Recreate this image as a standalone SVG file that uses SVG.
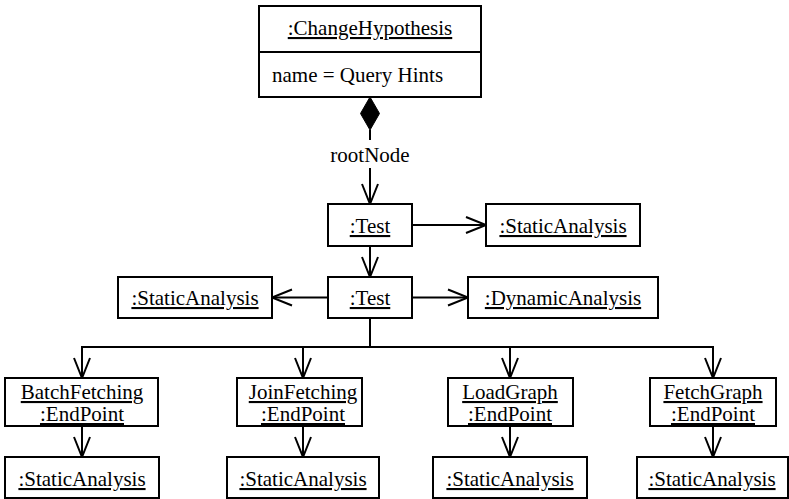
<svg xmlns="http://www.w3.org/2000/svg" width="789" height="499" viewBox="0 0 789 499">
  <style>
    .box { fill: #fff; stroke: #000; stroke-width: 2; }
    .lbl { font-family: "Liberation Serif", "Times New Roman", serif; font-size: 21px; fill: #000; text-anchor: middle; }
    .obj { text-decoration: underline; }
    .edge { fill: none; stroke: #000; stroke-width: 2; }
  </style>
  <defs>
    <marker id="open" markerUnits="userSpaceOnUse" viewBox="-22 -10 24 20" markerWidth="24" markerHeight="20" refX="0" refY="0" orient="auto" overflow="visible">
      <path d="M-20,-8 L0,0 L-20,8" fill="none" stroke="#000" stroke-width="2"/>
    </marker>
  </defs>

  <rect width="789" height="499" fill="#fff"/>

  <!-- connectors -->
  <g id="connectors" class="edge">
    <polygon points="370,97 379.5,113.5 370,130 360.5,113.5" fill="#000" stroke="#000" stroke-width="1"/>
    <line x1="370" y1="130" x2="370" y2="140"/>
    <line x1="370" y1="168" x2="370" y2="204" marker-end="url(#open)"/>
    <line x1="412" y1="225" x2="486" y2="225" marker-end="url(#open)"/>
    <line x1="370" y1="246" x2="370" y2="277" marker-end="url(#open)"/>
    <line x1="328" y1="297.5" x2="272" y2="297.5" marker-end="url(#open)"/>
    <line x1="412" y1="297.5" x2="468" y2="297.5" marker-end="url(#open)"/>
    <polyline points="370,318 370,347"/>
    <line x1="81" y1="347" x2="714" y2="347"/>
    <line x1="82" y1="347" x2="82" y2="378" marker-end="url(#open)"/>
    <line x1="303" y1="347" x2="303" y2="378" marker-end="url(#open)"/>
    <line x1="510" y1="347" x2="510" y2="378" marker-end="url(#open)"/>
    <line x1="713" y1="347" x2="713" y2="378" marker-end="url(#open)"/>
    <line x1="82" y1="426" x2="82" y2="457" marker-end="url(#open)"/>
    <line x1="303" y1="426" x2="303" y2="457" marker-end="url(#open)"/>
    <line x1="510" y1="426" x2="510" y2="457" marker-end="url(#open)"/>
    <line x1="713" y1="426" x2="713" y2="457" marker-end="url(#open)"/>
  </g>
  <text class="lbl" x="370" y="162">rootNode</text>

  <!-- nodes -->
  <g id="changeHypothesis">
    <rect class="box" x="259" y="6" width="222" height="91"/>
    <line x1="259" y1="52" x2="481" y2="52" stroke="#000" stroke-width="2"/>
    <text class="lbl obj" x="370" y="35">:ChangeHypothesis</text>
    <text class="lbl" x="272" y="82" style="text-anchor:start">name = Query Hints</text>
  </g>

  <g id="test1">
    <rect class="box" x="328" y="204" width="84" height="42"/>
    <text class="lbl obj" x="370" y="233">:Test</text>
  </g>
  <g id="staticAnalysis1">
    <rect class="box" x="486" y="204" width="154" height="42"/>
    <text class="lbl obj" x="563" y="233">:StaticAnalysis</text>
  </g>

  <g id="test2">
    <rect class="box" x="328" y="277" width="84" height="41"/>
    <text class="lbl obj" x="370" y="305">:Test</text>
  </g>
  <g id="staticAnalysis2">
    <rect class="box" x="118" y="277" width="154" height="41"/>
    <text class="lbl obj" x="195" y="305">:StaticAnalysis</text>
  </g>
  <g id="dynamicAnalysis">
    <rect class="box" x="468" y="277" width="190" height="41"/>
    <text class="lbl obj" x="563" y="305">:DynamicAnalysis</text>
  </g>

  <g id="batchFetching">
    <rect class="box" x="5" y="378" width="153" height="48"/>
    <text class="lbl obj" x="82" y="399">BatchFetching</text>
    <text class="lbl obj" x="82" y="421">:EndPoint</text>
  </g>
  <g id="joinFetching">
    <rect class="box" x="237" y="378" width="125" height="48"/>
    <text class="lbl obj" x="303" y="399">JoinFetching</text>
    <text class="lbl obj" x="303" y="421">:EndPoint</text>
  </g>
  <g id="loadGraph">
    <rect class="box" x="448" y="378" width="125" height="48"/>
    <text class="lbl obj" x="510" y="399">LoadGraph</text>
    <text class="lbl obj" x="510" y="421">:EndPoint</text>
  </g>
  <g id="fetchGraph">
    <rect class="box" x="650" y="378" width="126" height="48"/>
    <text class="lbl obj" x="713" y="399">FetchGraph</text>
    <text class="lbl obj" x="713" y="421">:EndPoint</text>
  </g>

  <g id="staticAnalysis3">
    <rect class="box" x="5" y="457" width="154" height="41"/>
    <text class="lbl obj" x="82" y="486">:StaticAnalysis</text>
  </g>
  <g id="staticAnalysis4">
    <rect class="box" x="227" y="457" width="152" height="41"/>
    <text class="lbl obj" x="303" y="486">:StaticAnalysis</text>
  </g>
  <g id="staticAnalysis5">
    <rect class="box" x="433" y="457" width="154" height="41"/>
    <text class="lbl obj" x="510" y="486">:StaticAnalysis</text>
  </g>
  <g id="staticAnalysis6">
    <rect class="box" x="637" y="457" width="151" height="41"/>
    <text class="lbl obj" x="712" y="486">:StaticAnalysis</text>
  </g>
</svg>
